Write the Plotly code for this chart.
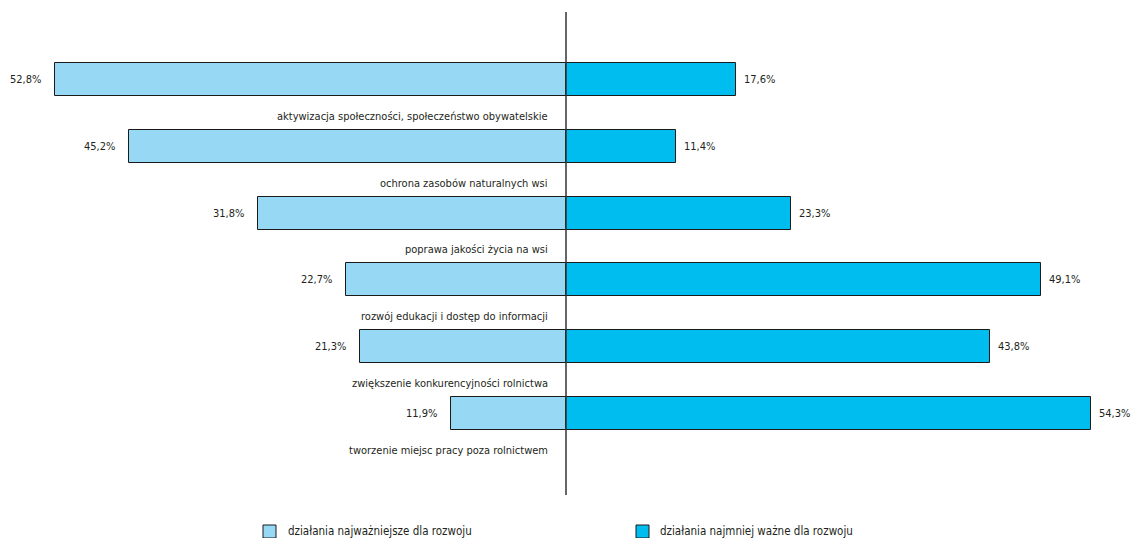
import plotly.graph_objects as go

categories = [
    "aktywizacja społeczności, społeczeństwo obywatelskie",
    "ochrona zasobów naturalnych wsi",
    "poprawa jakości życia na wsi",
    "rozwój edukacji i dostęp do informacji",
    "zwiększenie konkurencyjności rolnictwa",
    "tworzenie miejsc pracy poza rolnictwem",
]
most_important = [52.8, 45.2, 31.8, 22.7, 21.3, 11.9]
least_important = [17.6, 11.4, 23.3, 49.1, 43.8, 54.3]
series_names = ["działania najważniejsze dla rozwoju", "działania najmniej ważne dla rozwoju"]

FONT = "DejaVu Sans Condensed, Liberation Sans Narrow, Arial Narrow, sans-serif"
TXT = "#231f20"
C_LEFT = "#97d8f5"
C_RIGHT = "#00bdf0"
FS = 11

W, H = 1131, 538
ppu = 9.675
zero_px = 566
pos = list(range(len(categories)))

fig = go.Figure()
fig.add_trace(go.Bar(
    y=pos, x=[-v for v in most_important], orientation="h", width=0.494,
    marker=dict(color=C_LEFT, line=dict(color="#1a1a1a", width=1)),
    name=series_names[0], showlegend=False, hoverinfo="skip",
))
fig.add_trace(go.Bar(
    y=pos, x=least_important, orientation="h", width=0.494,
    marker=dict(color=C_RIGHT, line=dict(color="#1a1a1a", width=1)),
    name=series_names[1], showlegend=False, hoverinfo="skip",
))

def fmt(v):
    return f"{v:.1f}".replace(".", ",") + "%"

ann = []
for i, (a, b, c) in enumerate(zip(most_important, least_important, categories)):
    ann.append(dict(x=-a, y=i, xref="x", yref="y", text=fmt(a), showarrow=False,
                    xanchor="right", xshift=-12, font=dict(size=FS, color=TXT, family=FONT)))
    ann.append(dict(x=b, y=i, xref="x", yref="y", text=fmt(b), showarrow=False,
                    xanchor="left", xshift=6, font=dict(size=FS, color=TXT, family=FONT)))
    ann.append(dict(x=0, y=i + 0.55, xref="x", yref="y", text=c, showarrow=False,
                    xanchor="right", xshift=-16, font=dict(size=FS, color=TXT, family=FONT)))

shapes = [dict(type="line", xref="x", yref="paper", x0=0, x1=0,
               y0=1 - 495 / H, y1=1 - 12 / H, line=dict(color="#333333", width=1.5))]

legend_items = [(263, 286, C_LEFT, series_names[0]), (636, 658, C_RIGHT, series_names[1])]
for sx, tx, col, name in legend_items:
    shapes.append(dict(type="rect", xref="paper", yref="paper",
                       x0=sx / W, x1=(sx + 13) / W, y0=1 - 538 / H, y1=1 - 525 / H,
                       fillcolor=col, line=dict(color="#1a1a1a", width=1)))
    ann.append(dict(x=tx / W, y=1 - 531 / H, xref="paper", yref="paper", text=name,
                    showarrow=False, xanchor="left", yanchor="middle",
                    font=dict(size=FS + 0.5, color=TXT, family=FONT)))

fig.update_layout(
    width=W, height=H, margin=dict(l=0, r=0, t=0, b=0),
    paper_bgcolor="white", plot_bgcolor="white",
    barmode="overlay", bargap=0,
    xaxis=dict(range=[-zero_px / ppu, (W - zero_px) / ppu], visible=False, fixedrange=True),
    yaxis=dict(range=[(H - 79.5) / 66.8, -79.5 / 66.8], visible=False, fixedrange=True),
    annotations=ann, shapes=shapes, showlegend=False,
    font=dict(family=FONT, color=TXT),
)

fig.write_html("out.html")
